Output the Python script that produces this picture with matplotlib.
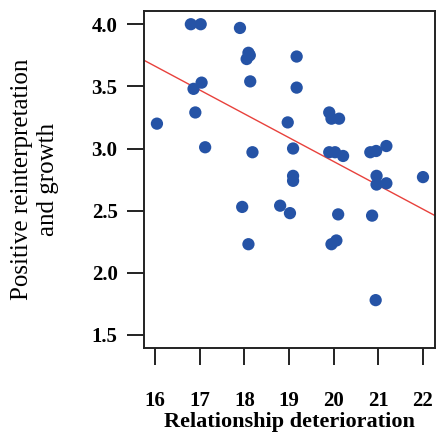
import matplotlib
matplotlib.use("Agg")
import matplotlib.pyplot as plt

# Data
rel_det = [16.80, 17.02, 17.90, 18.09, 18.05, 18.12, 19.17, 17.04, 16.86, 18.13,
           19.17, 16.04, 16.90, 18.97, 19.90, 19.95, 20.12, 17.12, 18.18, 19.09,
           19.90, 20.03, 20.21, 20.82, 20.95, 21.18, 20.96, 22.00, 19.09, 19.09,
           20.96, 21.18, 17.95, 18.80, 19.02, 20.10, 20.86, 18.09, 19.95, 20.06,
           20.94]
pos_reint = [4.00, 4.00, 3.97, 3.77, 3.72, 3.75, 3.74, 3.53, 3.48, 3.54,
             3.49, 3.20, 3.29, 3.21, 3.29, 3.24, 3.24, 3.01, 2.97, 3.00,
             2.97, 2.97, 2.94, 2.97, 2.98, 3.02, 2.78, 2.77, 2.78, 2.74,
             2.71, 2.72, 2.53, 2.54, 2.48, 2.47, 2.46, 2.23, 2.23, 2.26,
             1.78]
fit_x = [15.75, 22.27]
fit_y = [3.71, 2.46]
x_ticks = [16, 17, 18, 19, 20, 21, 22]
y_ticks = [1.5, 2.0, 2.5, 3.0, 3.5, 4.0]

plt.rcParams['font.family'] = ['Liberation Serif', 'DejaVu Serif']

fig = plt.figure(figsize=(4.37, 4.38), dpi=100)
ax = fig.add_axes([0.3295, 0.2055, 0.666, 0.769])

ax.scatter(rel_det, pos_reint, s=78, color='#2553a6', edgecolors='none', zorder=3)
ax.plot(fit_x, fit_y, color='#e8413c', linewidth=1.0, zorder=2)

ax.set_xlim(15.75, 22.27)
ax.set_ylim(1.395, 4.105)
ax.set_xticks(x_ticks)
ax.set_yticks(y_ticks)
ax.set_xticklabels([str(t) for t in x_ticks], fontsize=15, fontweight='bold')
ax.set_yticklabels([f"{t:.1f}" for t in y_ticks], fontsize=15, fontweight='bold')
ax.tick_params(axis='both', direction='out', length=12, width=1.4, color='#222222')
ax.tick_params(axis='x', pad=19)
ax.tick_params(axis='y', pad=7)
for sp in ax.spines.values():
    sp.set_linewidth(1.4)
    sp.set_color('#222222')

ax.set_xlabel('Relationship deterioration', fontsize=16, fontweight='bold', labelpad=1)
ax.set_ylabel('Positive reinterpretation\nand growth', fontsize=18)
ax.yaxis.label.set_va('center')
ax.yaxis.set_label_coords(-0.375, 0.5)

fig.savefig('out.png', dpi=100)
